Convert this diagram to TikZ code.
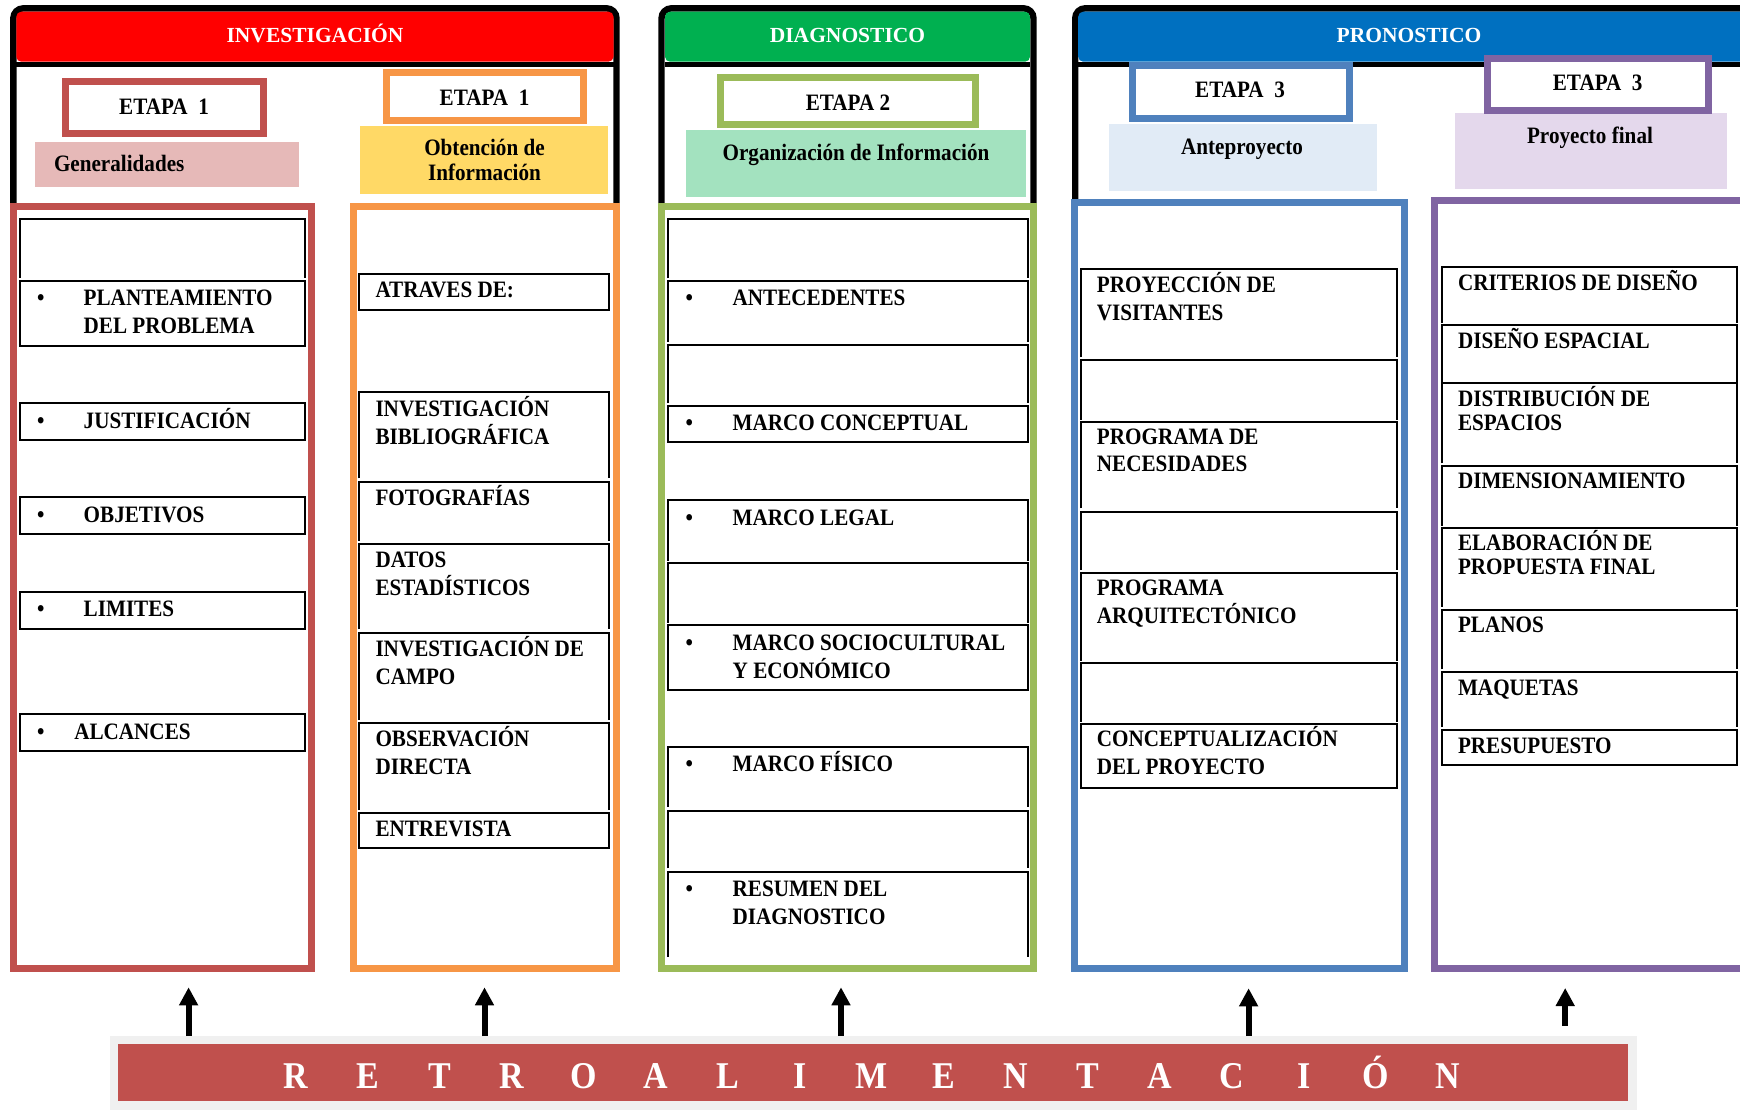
\documentclass[tikz,border=0pt]{standalone}
\usepackage{fontspec}
\setmainfont{Liberation Serif}[FakeStretch=0.9]
\newfontfamily\hdfont{Liberation Serif}
\usetikzlibrary{arrows.meta}
\definecolor{hdRed}{HTML}{FF0000}
\definecolor{hdGreen}{HTML}{00B050}
\definecolor{hdBlue}{HTML}{0070C0}
\definecolor{cRed}{HTML}{C0504D}
\definecolor{cOrange}{HTML}{F79646}
\definecolor{cGreen}{HTML}{9BBB59}
\definecolor{cBlue}{HTML}{4F81BD}
\definecolor{cPurple}{HTML}{8064A2}
\definecolor{fPink}{HTML}{E6B9B8}
\definecolor{fYellow}{HTML}{FFD966}
\definecolor{fMint}{HTML}{A3E2BF}
\definecolor{fSky}{HTML}{E1EBF6}
\definecolor{fLilac}{HTML}{E4D8EC}
\definecolor{barGray}{HTML}{F0F0F0}
\newcommand\mybody{\bfseries\fontsize{23.5}{27.6}\selectfont}
\newcommand\mypurp{\bfseries\fontsize{23.5}{24}\selectfont}
\newcommand\mytitle{\bfseries\fontsize{23.5}{25}\selectfont}
\newcommand\rn[6]{\node[#1, minimum width={#5-#3}, minimum height={#6-#4}] (#2) at ({(#3+#5)/2},{(#4+#6)/2}) {};}
\newcommand\cc[5]{\rn{cellc}{#1}{#2}{#3}{#4}{#5}}
\newcommand\oc[5]{\rn{cello}{#1}{#2}{#3}{#4}{#5}\draw[cellline] (#1.south west) -- (#1.north west) -- (#1.north east) -- (#1.south east);}
\newcommand\fr[5]{\rn{cello}{#1}{#2}{#3}{#4}{#5}\draw[frameline] (#1.south west) -- (#1.north west) -- (#1.north east) -- (#1.south east);}
\newcommand\tsl[5][]{\node[txt, anchor=base west, #1] (#2) at (#3,#4) {#5};}
\newcommand\tml[5][]{\node[txt, anchor=base west, #1] (#2) at (#3,#4) {\begin{tabular}[t]{@{}l@{}}#5\end{tabular}};}
\newcommand\bul[3]{\node[txt, anchor=base] (#1) at (#2,#3) {\textbullet};}
\newcommand\rl[1]{\makebox[72pt]{#1}}
\begin{document}
\begin{tikzpicture}[x=1pt,y=-1pt,
  frameline/.style={draw=black, line width=6.4pt, rounded corners=10pt},
  head/.style={rounded corners=5pt, inner sep=0pt, outer sep=0pt},
  sepline/.style={line width=5pt, black},
  etapabox/.style={draw, line width=7pt, fill=white, inner sep=0pt, outer sep=0pt},
  tbox/.style={inner sep=0pt, outer sep=0pt},
  colbox/.style={draw, line width=7pt, fill=white, inner sep=0pt, outer sep=0pt},
  cellc/.style={draw, line width=2pt, inner sep=0pt, outer sep=0pt},
  cello/.style={inner sep=0pt, outer sep=0pt},
  cellline/.style={line width=2pt, black},
  txt/.style={inner sep=0pt, outer sep=0pt, font=\mybody},
  hdtxt/.style={inner sep=0pt, outer sep=0pt, text=white, font=\hdfont\bfseries\fontsize{21.5}{25}\selectfont},
  arr/.style={line width=6pt, -{Triangle[width=18pt,length=18pt]}}
]
\useasboundingbox (0,0) rectangle (1740,1109);
\clip (0,0) rectangle (1740,1109);
% ---------- frames and headers
\fr{invframe}{13.3}{8.3}{616.5}{208}
\fr{diagframe}{661.5}{8.3}{1033.5}{208}
\fr{pronframe}{1075.2}{8.3}{1800}{208}
\rn{head,fill=hdRed}{invhead}{16.3}{11.7}{613.5}{61.7}
\rn{head,fill=hdGreen}{diaghead}{665}{11.7}{1030}{61.7}
\rn{head,fill=hdBlue}{pronhead}{1078.2}{11.7}{1796}{61.7}
\draw[sepline] ([yshift=-2.5pt]invhead.south west) -- ([yshift=-2.5pt]invhead.south east);
\draw[sepline] ([yshift=-2.5pt]diaghead.south west) -- ([yshift=-2.5pt]diaghead.south east);
\draw[sepline] ([yshift=-2.5pt]pronhead.south west) -- ([yshift=-2.5pt]pronhead.south east);
\node[hdtxt, anchor=base] (invhead-t) at (315,42.7) {INVESTIGACIÓN};
\node[hdtxt, anchor=base] (diaghead-t) at (847.5,42.7) {DIAGNOSTICO};
\node[hdtxt, anchor=base] (pronhead-t) at (1409,42.7) {PRONOSTICO};
% ---------- title rectangles
\rn{tbox,fill=fPink}{tgen}{35}{141.7}{299}{186.7}
\rn{tbox,fill=fYellow}{tobt}{360}{126}{608}{193.7}
\rn{tbox,fill=fMint}{torg}{686}{130}{1026}{196.7}
\rn{tbox,fill=fSky}{tante}{1109}{124}{1377}{190.7}
\rn{tbox,fill=fLilac}{tfin}{1455}{113.3}{1727}{189}
\tsl{tgen-t}{54}{171.7}{Generalidades}
\node[txt, font=\mytitle, anchor=base] (tobt-t) at (484.5,155) {\begin{tabular}[t]{@{}c@{}}Obtención de\\Información\end{tabular}};
\node[txt, anchor=base] (torg-t) at (856,160) {Organización de Información};
\node[txt, anchor=base] (tante-t) at (1242,154) {Anteproyecto};
\node[txt, anchor=base] (tfin-t) at (1590,143.3) {Proyecto final};
% ---------- etapa boxes
\rn{etapabox,draw=cRed}{e1a}{65.5}{81.2}{263.5}{133.2}
\rn{etapabox,draw=cOrange}{e1b}{386.5}{72.5}{583.5}{120.8}
\rn{etapabox,draw=cGreen}{e2}{720.2}{77.5}{975.8}{124.8}
\rn{etapabox,draw=cBlue}{e3a}{1132}{65.2}{1349.5}{118.2}
\rn{etapabox,draw=cPurple}{e3b}{1487.5}{58.5}{1708.3}{110.8}
\node[txt, anchor=base] (e1a-t) at (164,114.3) {ETAPA\ \ 1};
\node[txt, anchor=base] (e1b-t) at (484.5,105) {ETAPA\ \ 1};
\node[txt, anchor=base] (e2-t) at (848,110) {ETAPA 2};
\node[txt, anchor=base] (e3a-t) at (1240,97.3) {ETAPA\ \ 3};
\node[txt, anchor=base] (e3b-t) at (1597.7,90.7) {ETAPA\ \ 3};
% ---------- columns
\rn{colbox,draw=cRed}{colred}{13.7}{206.2}{311.5}{968.8}
\rn{colbox,draw=cOrange}{colorange}{353.5}{206.2}{616.1}{968.8}
\rn{colbox,draw=cGreen}{colgreen}{661.8}{206.2}{1033.2}{968.8}
\rn{colbox,draw=cBlue}{colblue}{1074.3}{202.5}{1404.3}{968.2}
\rn{colbox,draw=cPurple}{colpurple}{1434.3}{200.2}{1800}{968.2}
% ---------- red column cells
\oc{r0}{20.4}{219.3}{305.3}{277.7}
\cc{r1}{20.4}{281}{305.3}{346}
\cc{r2}{20.4}{403.3}{305.3}{440}
\cc{r3}{20.4}{497.3}{305.3}{534}
\cc{r4}{20.4}{591.7}{305.3}{629}
\cc{r5}{20.4}{714.3}{305.3}{751}
\bul{r1-b}{40.8}{305.7}\tml{r1-t}{83.7}{305.7}{PLANTEAMIENTO\\DEL PROBLEMA}
\bul{r2-b}{40.8}{428.3}\tsl{r2-t}{83.7}{428.3}{JUSTIFICACIÓN}
\bul{r3-b}{40.8}{522.3}\tsl{r3-t}{83.7}{522.3}{OBJETIVOS}
\bul{r4-b}{40.8}{616.7}\tsl{r4-t}{83.7}{616.7}{LIMITES}
\bul{r5-b}{40.8}{739.3}\tsl{r5-t}{74.3}{739.3}{ALCANCES}
% ---------- orange column cells
\cc{o1}{359}{274.3}{609}{310}
\oc{o2}{359}{392.3}{609}{478.3}
\oc{o3}{359}{481.7}{609}{541}
\oc{o4}{359}{544}{609}{629.3}
\oc{o5}{359}{633.3}{609}{719.7}
\oc{o6}{359}{722.7}{609}{810}
\cc{o7}{359}{812.7}{609}{848.3}
\tsl{o1-t}{375.5}{297.7}{ATRAVES DE:}
\tml{o2-t}{375.5}{416}{INVESTIGACIÓN\\BIBLIOGRÁFICA}
\tsl{o3-t}{375.5}{505}{FOTOGRAFÍAS}
\tml{o4-t}{375.5}{567.3}{DATOS\\ESTADÍSTICOS}
\tml{o5-t}{375.5}{656.7}{INVESTIGACIÓN DE\\CAMPO}
\tml{o6-t}{375.5}{746.7}{OBSERVACIÓN\\DIRECTA}
\tsl{o7-t}{375.5}{836}{ENTREVISTA}
% ---------- green column cells
\oc{g0}{668.3}{219.3}{1027.7}{278.3}
\oc{g1}{668.3}{281}{1027.7}{341.7}
\oc{g2}{668.3}{345}{1027.7}{403.3}
\cc{g3}{668.3}{406}{1027.7}{441.7}
\oc{g4}{668.3}{500}{1027.7}{561}
\oc{g5}{668.3}{562.7}{1027.7}{622.7}
\cc{g6}{668.3}{625}{1027.7}{690}
\oc{g7}{668.3}{746.7}{1027.7}{806.7}
\oc{g8}{668.3}{811}{1027.7}{868.3}
\oc{g9}{668.3}{871.7}{1027.7}{956.7}
\bul{g1-b}{689.3}{305}\tsl{g1-t}{732.7}{305}{ANTECEDENTES}
\bul{g3-b}{689.3}{430.7}\tsl{g3-t}{732.7}{430.7}{MARCO CONCEPTUAL}
\bul{g4-b}{689.3}{525}\tsl{g4-t}{732.7}{525}{MARCO LEGAL}
\bul{g6-b}{689.3}{650}\tml{g6-t}{732.7}{650}{MARCO SOCIOCULTURAL\\Y ECONÓMICO}
\bul{g7-b}{689.3}{771.7}\tsl{g7-t}{732.7}{771.7}{MARCO FÍSICO}
\bul{g9-b}{689.3}{896.7}\tml{g9-t}{732.7}{896.7}{RESUMEN DEL\\DIAGNOSTICO}
% ---------- blue column cells
\oc{b1}{1080.8}{269.3}{1397.4}{357.3}
\oc{b2}{1080.8}{360}{1397.4}{420}
\oc{b3}{1080.8}{421.7}{1397.4}{508.3}
\oc{b4}{1080.8}{511.7}{1397.4}{570}
\oc{b5}{1080.8}{572.7}{1397.4}{660.7}
\oc{b6}{1080.8}{662.7}{1397.4}{721.7}
\cc{b7}{1080.8}{724}{1397.4}{787.7}
\tml{b1-t}{1096.9}{292.7}{PROYECCIÓN DE\\VISITANTES}
\tml{b3-t}{1096.9}{444}{PROGRAMA DE\\NECESIDADES}
\tml{b5-t}{1096.9}{595}{PROGRAMA\\ARQUITECTÓNICO}
\tml{b7-t}{1096.9}{746.7}{CONCEPTUALIZACIÓN\\DEL PROYECTO}
% ---------- purple column cells
\oc{p1}{1441.6}{267.3}{1737.4}{323.3}
\oc{p2}{1441.6}{325}{1737.4}{381.7}
\oc{p3}{1441.6}{383.3}{1737.4}{463.3}
\oc{p4}{1441.6}{465.7}{1737.4}{525.7}
\oc{p5}{1441.6}{527.7}{1737.4}{606.7}
\oc{p6}{1441.6}{610}{1737.4}{669.3}
\oc{p7}{1441.6}{671.7}{1737.4}{727.3}
\cc{p8}{1441.6}{730}{1737.4}{765}
\tsl{p1-t}{1458}{290}{CRITERIOS DE DISEÑO}
\tsl{p2-t}{1458}{348.3}{DISEÑO ESPACIAL}
\tml[font=\mypurp]{p3-t}{1458}{406.7}{DISTRIBUCIÓN DE\\ESPACIOS}
\tsl{p4-t}{1458}{488.3}{DIMENSIONAMIENTO}
\tml[font=\mypurp]{p5-t}{1458}{550.7}{ELABORACIÓN DE\\PROPUESTA FINAL}
\tsl{p6-t}{1458}{632.7}{PLANOS}
\tsl{p7-t}{1458}{695}{MAQUETAS}
\tsl{p8-t}{1458}{753.3}{PRESUPUESTO}
% ---------- feedback bar
\rn{tbox,fill=barGray}{barbg}{110}{1036}{1637}{1115}
\rn{tbox,fill=cRed}{bar}{118.4}{1044}{1628}{1100.7}
\node[txt, anchor=base west, text=white, font=\bfseries\fontsize{37.8}{40}\selectfont] (bar-t) at (260,1088.3)
  {\rl{R}\rl{E}\rl{T}\rl{R}\rl{O}\rl{A}\rl{L}\rl{I}\rl{M}\rl{E}\rl{N}\rl{T}\rl{A}\rl{C}\rl{I}\rl{Ó}\rl{N}};
% ---------- arrows
\coordinate (t1) at (188.6,987.3);
\coordinate (t2) at (484.5,987.3);
\coordinate (t3) at (841,987.3);
\coordinate (t4) at (1248.6,988.3);
\coordinate (t5) at (1565.2,988);
\coordinate (s5) at (1565.2,1025.7);
\draw[arr] (barbg.north -| t1) -- (t1);
\draw[arr] (barbg.north -| t2) -- (t2);
\draw[arr] (barbg.north -| t3) -- (t3);
\draw[arr] (barbg.north -| t4) -- (t4);
\draw[arr] (s5) -- (t5);
\end{tikzpicture}
\end{document}
